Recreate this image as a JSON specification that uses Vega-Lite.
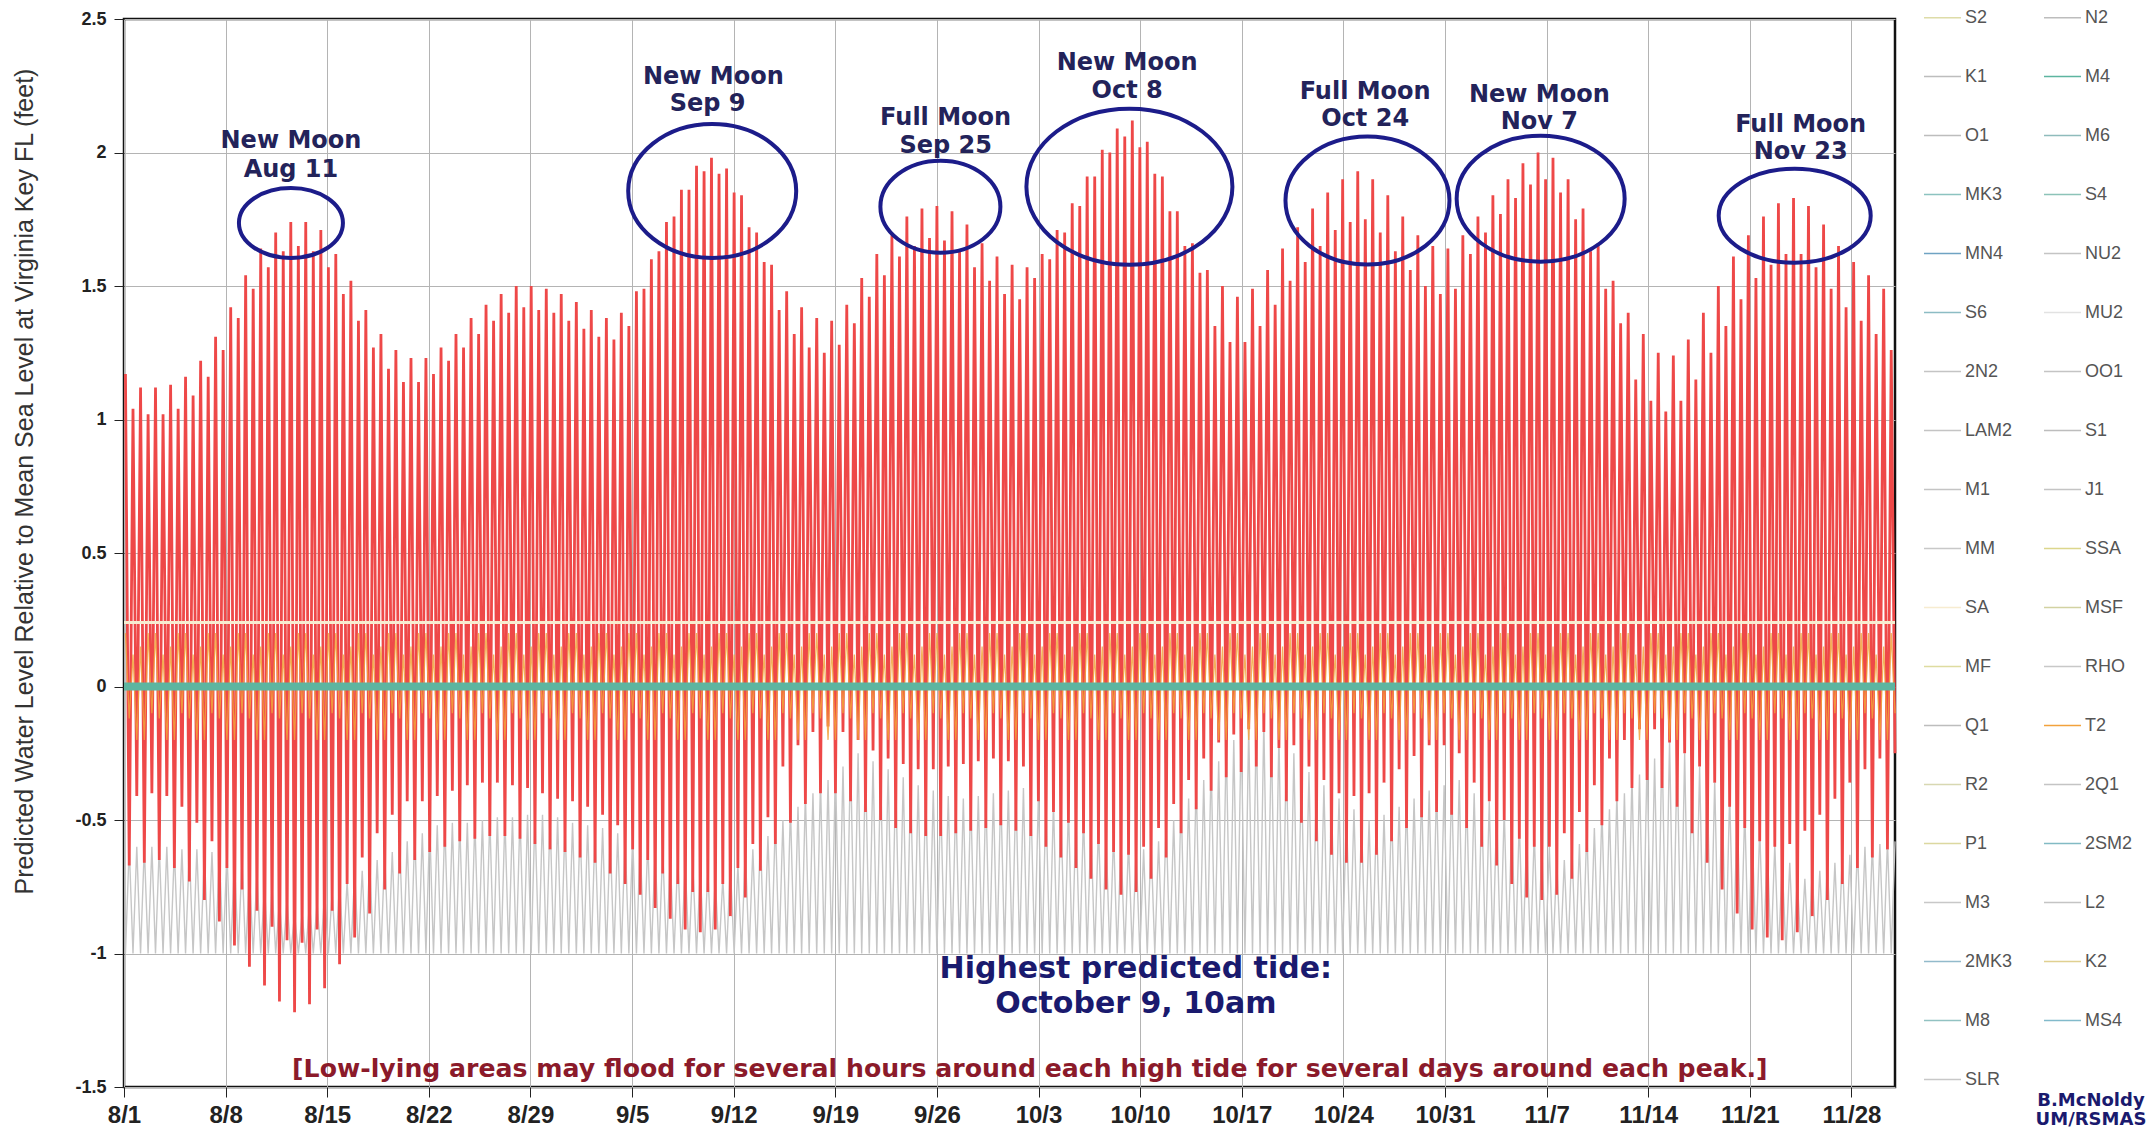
{
"$schema":"https://vega.github.io/schema/vega-lite/v6.json",
"width":1771,"height":1068,
"autosize":{"type":"none"},
"padding":{"left":124,"top":19,"right":258,"bottom":44},
"background":"white",
"config":{
"view":{"stroke":"#111","strokeWidth":2.5},
"axis":{"domain":false,"gridColor":"#b4b4b4","gridWidth":1,"tickColor":"#222","tickSize":10,"labelColor":"#222","labelFontWeight":"bold","labelFont":"Liberation Sans","labelOverlap":false,"labelFlush":false}
},
"datasets":{
"tide":[
{"t":0.1,"r":1.17,"g":-1,"o":0.2},{"t":0.36,"r":-0.67,"g":-0.6,"o":-0.12},{"t":0.62,"r":1.04,"g":-1,"o":0.12},{"t":0.88,"r":-0.41,"g":-0.6,"o":-0.2},
{"t":1.14,"r":1.12,"g":-1,"o":0.15},{"t":1.4,"r":-0.66,"g":-0.6,"o":-0.2},{"t":1.66,"r":1.02,"g":-1,"o":0.2},{"t":1.92,"r":-0.4,"g":-0.6,"o":-0.1},
{"t":2.17,"r":1.12,"g":-1,"o":0.2},{"t":2.43,"r":-0.65,"g":-0.6,"o":-0.12},{"t":2.69,"r":1.02,"g":-1,"o":0.12},{"t":2.95,"r":-0.41,"g":-0.6,"o":-0.2},
{"t":3.21,"r":1.13,"g":-1,"o":0.15},{"t":3.47,"r":-0.68,"g":-0.61,"o":-0.2},{"t":3.73,"r":1.04,"g":-1,"o":0.2},{"t":3.99,"r":-0.45,"g":-0.61,"o":-0.1},
{"t":4.24,"r":1.16,"g":-1,"o":0.2},{"t":4.5,"r":-0.73,"g":-0.61,"o":-0.12},{"t":4.76,"r":1.09,"g":-1,"o":0.12},{"t":5.02,"r":-0.51,"g":-0.61,"o":-0.2},
{"t":5.28,"r":1.22,"g":-1,"o":0.15},{"t":5.54,"r":-0.8,"g":-0.62,"o":-0.2},{"t":5.8,"r":1.16,"g":-1,"o":0.2},{"t":6.06,"r":-0.58,"g":-0.62,"o":-0.1},
{"t":6.31,"r":1.31,"g":-1,"o":0.2},{"t":6.57,"r":-0.88,"g":-0.62,"o":-0.12},{"t":6.83,"r":1.26,"g":-1,"o":0.12},{"t":7.09,"r":-0.68,"g":-0.62,"o":-0.2},
{"t":7.35,"r":1.42,"g":-1,"o":0.15},{"t":7.61,"r":-0.97,"g":-0.65,"o":-0.2},{"t":7.87,"r":1.38,"g":-1,"o":0.2},{"t":8.13,"r":-0.76,"g":-0.65,"o":-0.1},
{"t":8.38,"r":1.54,"g":-1,"o":0.2},{"t":8.64,"r":-1.05,"g":-0.7,"o":-0.12},{"t":8.9,"r":1.49,"g":-1,"o":0.12},{"t":9.16,"r":-0.84,"g":-0.7,"o":-0.2},
{"t":9.42,"r":1.64,"g":-1,"o":0.15},{"t":9.68,"r":-1.12,"g":-0.75,"o":-0.2},{"t":9.94,"r":1.57,"g":-1,"o":0.2},{"t":10.2,"r":-0.9,"g":-0.75,"o":-0.1},
{"t":10.45,"r":1.7,"g":-1,"o":0.2},{"t":10.71,"r":-1.18,"g":-0.8,"o":-0.12},{"t":10.97,"r":1.63,"g":-1,"o":0.12},{"t":11.23,"r":-0.95,"g":-0.8,"o":-0.2},
{"t":11.49,"r":1.74,"g":-1,"o":0.15},{"t":11.75,"r":-1.22,"g":-0.85,"o":-0.2},{"t":12.01,"r":1.65,"g":-1,"o":0.2},{"t":12.27,"r":-0.96,"g":-0.85,"o":-0.1},
{"t":12.52,"r":1.74,"g":-1,"o":0.2},{"t":12.78,"r":-1.19,"g":-0.81,"o":-0.12},{"t":13.04,"r":1.63,"g":-1,"o":0.12},{"t":13.3,"r":-0.91,"g":-0.81,"o":-0.2},
{"t":13.56,"r":1.71,"g":-1,"o":0.15},{"t":13.82,"r":-1.13,"g":-0.77,"o":-0.2},{"t":14.08,"r":1.57,"g":-1,"o":0.2},{"t":14.34,"r":-0.84,"g":-0.77,"o":-0.1},
{"t":14.59,"r":1.62,"g":-1,"o":0.2},{"t":14.85,"r":-1.04,"g":-0.73,"o":-0.12},{"t":15.11,"r":1.47,"g":-1,"o":0.12},{"t":15.37,"r":-0.74,"g":-0.73,"o":-0.2},
{"t":15.63,"r":1.52,"g":-1,"o":0.15},{"t":15.89,"r":-0.94,"g":-0.69,"o":-0.2},{"t":16.15,"r":1.37,"g":-1,"o":0.2},{"t":16.41,"r":-0.64,"g":-0.69,"o":-0.1},
{"t":16.66,"r":1.41,"g":-1,"o":0.2},{"t":16.92,"r":-0.85,"g":-0.65,"o":-0.12},{"t":17.18,"r":1.27,"g":-1,"o":0.12},{"t":17.44,"r":-0.55,"g":-0.65,"o":-0.2},
{"t":17.7,"r":1.32,"g":-1,"o":0.15},{"t":17.96,"r":-0.76,"g":-0.62,"o":-0.2},{"t":18.22,"r":1.19,"g":-1,"o":0.2},{"t":18.48,"r":-0.48,"g":-0.62,"o":-0.1},
{"t":18.73,"r":1.26,"g":-1,"o":0.2},{"t":18.99,"r":-0.7,"g":-0.58,"o":-0.12},{"t":19.25,"r":1.14,"g":-1,"o":0.12},{"t":19.51,"r":-0.43,"g":-0.58,"o":-0.2},
{"t":19.77,"r":1.23,"g":-1,"o":0.15},{"t":20.03,"r":-0.65,"g":-0.55,"o":-0.2},{"t":20.29,"r":1.14,"g":-1,"o":0.2},{"t":20.55,"r":-0.43,"g":-0.55,"o":-0.1},
{"t":20.8,"r":1.23,"g":-1,"o":0.2},{"t":21.06,"r":-0.62,"g":-0.52,"o":-0.12},{"t":21.32,"r":1.17,"g":-1,"o":0.12},{"t":21.58,"r":-0.41,"g":-0.52,"o":-0.2},
{"t":21.84,"r":1.27,"g":-1,"o":0.15},{"t":22.1,"r":-0.6,"g":-0.51,"o":-0.2},{"t":22.36,"r":1.22,"g":-1,"o":0.2},{"t":22.62,"r":-0.39,"g":-0.51,"o":-0.1},
{"t":22.87,"r":1.32,"g":-1,"o":0.2},{"t":23.13,"r":-0.58,"g":-0.51,"o":-0.12},{"t":23.39,"r":1.27,"g":-1,"o":0.12},{"t":23.65,"r":-0.37,"g":-0.51,"o":-0.2},
{"t":23.91,"r":1.38,"g":-1,"o":0.15},{"t":24.17,"r":-0.57,"g":-0.5,"o":-0.2},{"t":24.43,"r":1.32,"g":-1,"o":0.2},{"t":24.69,"r":-0.36,"g":-0.5,"o":-0.1},
{"t":24.94,"r":1.43,"g":-1,"o":0.2},{"t":25.2,"r":-0.56,"g":-0.49,"o":-0.12},{"t":25.46,"r":1.37,"g":-1,"o":0.12},{"t":25.72,"r":-0.36,"g":-0.49,"o":-0.2},
{"t":25.98,"r":1.47,"g":-1,"o":0.15},{"t":26.24,"r":-0.56,"g":-0.49,"o":-0.2},{"t":26.5,"r":1.4,"g":-1,"o":0.2},{"t":26.76,"r":-0.37,"g":-0.49,"o":-0.1},
{"t":27.02,"r":1.5,"g":-1,"o":0.2},{"t":27.28,"r":-0.57,"g":-0.48,"o":-0.12},{"t":27.54,"r":1.42,"g":-1,"o":0.12},{"t":27.8,"r":-0.38,"g":-0.48,"o":-0.2},
{"t":28.05,"r":1.5,"g":-1,"o":0.15},{"t":28.31,"r":-0.59,"g":-0.48,"o":-0.2},{"t":28.57,"r":1.41,"g":-1,"o":0.2},{"t":28.83,"r":-0.4,"g":-0.48,"o":-0.1},
{"t":29.09,"r":1.49,"g":-1,"o":0.2},{"t":29.35,"r":-0.61,"g":-0.49,"o":-0.12},{"t":29.61,"r":1.4,"g":-1,"o":0.12},{"t":29.87,"r":-0.42,"g":-0.49,"o":-0.2},
{"t":30.12,"r":1.47,"g":-1,"o":0.15},{"t":30.38,"r":-0.62,"g":-0.51,"o":-0.2},{"t":30.64,"r":1.37,"g":-1,"o":0.2},{"t":30.9,"r":-0.43,"g":-0.51,"o":-0.1},
{"t":31.16,"r":1.44,"g":-1,"o":0.2},{"t":31.42,"r":-0.64,"g":-0.52,"o":-0.12},{"t":31.68,"r":1.34,"g":-1,"o":0.12},{"t":31.94,"r":-0.45,"g":-0.52,"o":-0.2},
{"t":32.19,"r":1.41,"g":-1,"o":0.15},{"t":32.45,"r":-0.66,"g":-0.53,"o":-0.2},{"t":32.71,"r":1.31,"g":-1,"o":0.2},{"t":32.97,"r":-0.48,"g":-0.53,"o":-0.1},
{"t":33.23,"r":1.38,"g":-1,"o":0.2},{"t":33.49,"r":-0.7,"g":-0.55,"o":-0.12},{"t":33.75,"r":1.3,"g":-1,"o":0.12},{"t":34.01,"r":-0.52,"g":-0.55,"o":-0.2},
{"t":34.26,"r":1.4,"g":-1,"o":0.15},{"t":34.52,"r":-0.74,"g":-0.56,"o":-0.2},{"t":34.78,"r":1.35,"g":-1,"o":0.2},{"t":35.04,"r":-0.61,"g":-0.56,"o":-0.1},
{"t":35.3,"r":1.48,"g":-1,"o":0.2},{"t":35.56,"r":-0.78,"g":-0.58,"o":-0.12},{"t":35.82,"r":1.49,"g":-1,"o":0.12},{"t":36.08,"r":-0.65,"g":-0.58,"o":-0.2},
{"t":36.33,"r":1.6,"g":-1,"o":0.15},{"t":36.59,"r":-0.83,"g":-0.61,"o":-0.2},{"t":36.85,"r":1.63,"g":-1,"o":0.2},{"t":37.11,"r":-0.7,"g":-0.61,"o":-0.1},
{"t":37.37,"r":1.74,"g":-1,"o":0.2},{"t":37.63,"r":-0.87,"g":-0.64,"o":-0.12},{"t":37.89,"r":1.76,"g":-1,"o":0.12},{"t":38.15,"r":-0.74,"g":-0.64,"o":-0.2},
{"t":38.4,"r":1.86,"g":-1,"o":0.15},{"t":38.66,"r":-0.91,"g":-0.66,"o":-0.2},{"t":38.92,"r":1.86,"g":-1,"o":0.2},{"t":39.18,"r":-0.77,"g":-0.66,"o":-0.1},
{"t":39.44,"r":1.95,"g":-1,"o":0.2},{"t":39.7,"r":-0.92,"g":-0.69,"o":-0.12},{"t":39.96,"r":1.93,"g":-1,"o":0.12},{"t":40.22,"r":-0.77,"g":-0.69,"o":-0.2},
{"t":40.47,"r":1.98,"g":-1,"o":0.15},{"t":40.73,"r":-0.91,"g":-0.72,"o":-0.2},{"t":40.99,"r":1.92,"g":-1,"o":0.2},{"t":41.25,"r":-0.74,"g":-0.72,"o":-0.1},
{"t":41.51,"r":1.94,"g":-1,"o":0.2},{"t":41.77,"r":-0.86,"g":-0.67,"o":-0.12},{"t":42.03,"r":1.85,"g":-1,"o":0.12},{"t":42.29,"r":-0.68,"g":-0.67,"o":-0.2},
{"t":42.54,"r":1.84,"g":-1,"o":0.15},{"t":42.8,"r":-0.79,"g":-0.61,"o":-0.2},{"t":43.06,"r":1.72,"g":-1,"o":0.2},{"t":43.32,"r":-0.59,"g":-0.61,"o":-0.1},
{"t":43.58,"r":1.7,"g":-1,"o":0.2},{"t":43.84,"r":-0.69,"g":-0.56,"o":-0.12},{"t":44.1,"r":1.59,"g":-1,"o":0.12},{"t":44.36,"r":-0.49,"g":-0.56,"o":-0.2},
{"t":44.61,"r":1.58,"g":-1,"o":0.15},{"t":44.87,"r":-0.59,"g":-0.5,"o":-0.2},{"t":45.13,"r":1.41,"g":-1,"o":0.2},{"t":45.39,"r":-0.3,"g":-0.5,"o":-0.1},
{"t":45.65,"r":1.48,"g":-1,"o":0.2},{"t":45.91,"r":-0.51,"g":-0.45,"o":-0.12},{"t":46.17,"r":1.32,"g":-1,"o":0.12},{"t":46.43,"r":-0.22,"g":-0.45,"o":-0.2},
{"t":46.68,"r":1.42,"g":-1,"o":0.15},{"t":46.94,"r":-0.44,"g":-0.4,"o":-0.2},{"t":47.2,"r":1.27,"g":-1,"o":0.2},{"t":47.46,"r":-0.17,"g":-0.4,"o":-0.1},
{"t":47.72,"r":1.38,"g":-1,"o":0.2},{"t":47.98,"r":-0.4,"g":-0.35,"o":-0.12},{"t":48.24,"r":1.25,"g":-1,"o":0.12},{"t":48.5,"r":-0.15,"g":-0.35,"o":-0.2},
{"t":48.75,"r":1.37,"g":-1,"o":0.15},{"t":49.01,"r":-0.4,"g":-0.3,"o":-0.2},{"t":49.27,"r":1.28,"g":-1,"o":0.2},{"t":49.53,"r":-0.17,"g":-0.3,"o":-0.1},
{"t":49.79,"r":1.43,"g":-1,"o":0.2},{"t":50.05,"r":-0.43,"g":-0.25,"o":-0.12},{"t":50.31,"r":1.36,"g":-1,"o":0.12},{"t":50.57,"r":-0.2,"g":-0.25,"o":-0.2},
{"t":50.82,"r":1.53,"g":-1,"o":0.15},{"t":51.08,"r":-0.47,"g":-0.28,"o":-0.2},{"t":51.34,"r":1.46,"g":-1,"o":0.2},{"t":51.6,"r":-0.24,"g":-0.28,"o":-0.1},
{"t":51.86,"r":1.62,"g":-1,"o":0.2},{"t":52.12,"r":-0.5,"g":-0.31,"o":-0.12},{"t":52.38,"r":1.54,"g":-1,"o":0.12},{"t":52.64,"r":-0.27,"g":-0.31,"o":-0.2},
{"t":52.9,"r":1.69,"g":-1,"o":0.15},{"t":53.16,"r":-0.53,"g":-0.34,"o":-0.2},{"t":53.42,"r":1.61,"g":-1,"o":0.2},{"t":53.68,"r":-0.29,"g":-0.34,"o":-0.1},
{"t":53.93,"r":1.76,"g":-1,"o":0.2},{"t":54.19,"r":-0.55,"g":-0.37,"o":-0.12},{"t":54.45,"r":1.65,"g":-1,"o":0.12},{"t":54.71,"r":-0.31,"g":-0.37,"o":-0.2},
{"t":54.97,"r":1.79,"g":-1,"o":0.15},{"t":55.23,"r":-0.56,"g":-0.39,"o":-0.2},{"t":55.49,"r":1.68,"g":-1,"o":0.2},{"t":55.75,"r":-0.31,"g":-0.39,"o":-0.1},
{"t":56.0,"r":1.8,"g":-1,"o":0.2},{"t":56.26,"r":-0.56,"g":-0.41,"o":-0.12},{"t":56.52,"r":1.67,"g":-1,"o":0.12},{"t":56.78,"r":-0.3,"g":-0.41,"o":-0.2},
{"t":57.04,"r":1.78,"g":-1,"o":0.15},{"t":57.3,"r":-0.55,"g":-0.42,"o":-0.2},{"t":57.56,"r":1.63,"g":-1,"o":0.2},{"t":57.82,"r":-0.29,"g":-0.42,"o":-0.1},
{"t":58.07,"r":1.73,"g":-1,"o":0.2},{"t":58.33,"r":-0.54,"g":-0.41,"o":-0.12},{"t":58.59,"r":1.57,"g":-1,"o":0.12},{"t":58.85,"r":-0.28,"g":-0.41,"o":-0.2},
{"t":59.11,"r":1.66,"g":-1,"o":0.15},{"t":59.37,"r":-0.53,"g":-0.4,"o":-0.2},{"t":59.63,"r":1.52,"g":-1,"o":0.2},{"t":59.89,"r":-0.27,"g":-0.4,"o":-0.1},
{"t":60.14,"r":1.61,"g":-1,"o":0.2},{"t":60.4,"r":-0.52,"g":-0.39,"o":-0.12},{"t":60.66,"r":1.47,"g":-1,"o":0.12},{"t":60.92,"r":-0.28,"g":-0.39,"o":-0.2},
{"t":61.18,"r":1.58,"g":-1,"o":0.15},{"t":61.44,"r":-0.54,"g":-0.38,"o":-0.2},{"t":61.7,"r":1.45,"g":-1,"o":0.2},{"t":61.96,"r":-0.3,"g":-0.38,"o":-0.1},
{"t":62.21,"r":1.57,"g":-1,"o":0.2},{"t":62.47,"r":-0.56,"g":-0.41,"o":-0.12},{"t":62.73,"r":1.53,"g":-1,"o":0.12},{"t":62.99,"r":-0.43,"g":-0.41,"o":-0.2},
{"t":63.25,"r":1.62,"g":-1,"o":0.15},{"t":63.51,"r":-0.6,"g":-0.43,"o":-0.2},{"t":63.77,"r":1.6,"g":-1,"o":0.2},{"t":64.03,"r":-0.47,"g":-0.43,"o":-0.1},
{"t":64.28,"r":1.71,"g":-1,"o":0.2},{"t":64.54,"r":-0.64,"g":-0.45,"o":-0.12},{"t":64.8,"r":1.7,"g":-1,"o":0.12},{"t":65.06,"r":-0.51,"g":-0.45,"o":-0.2},
{"t":65.32,"r":1.81,"g":-1,"o":0.15},{"t":65.58,"r":-0.68,"g":-0.48,"o":-0.2},{"t":65.84,"r":1.8,"g":-1,"o":0.2},{"t":66.1,"r":-0.55,"g":-0.48,"o":-0.1},
{"t":66.35,"r":1.91,"g":-1,"o":0.2},{"t":66.61,"r":-0.72,"g":-0.52,"o":-0.12},{"t":66.87,"r":1.91,"g":-1,"o":0.12},{"t":67.13,"r":-0.59,"g":-0.52,"o":-0.2},
{"t":67.39,"r":2.01,"g":-1,"o":0.15},{"t":67.65,"r":-0.76,"g":-0.55,"o":-0.2},{"t":67.91,"r":2.0,"g":-1,"o":0.2},{"t":68.17,"r":-0.62,"g":-0.55,"o":-0.1},
{"t":68.42,"r":2.09,"g":-1,"o":0.2},{"t":68.68,"r":-0.78,"g":-0.58,"o":-0.12},{"t":68.94,"r":2.06,"g":-1,"o":0.12},{"t":69.2,"r":-0.63,"g":-0.58,"o":-0.2},
{"t":69.46,"r":2.12,"g":-1,"o":0.15},{"t":69.72,"r":-0.77,"g":-0.61,"o":-0.2},{"t":69.98,"r":2.02,"g":-1,"o":0.2},{"t":70.24,"r":-0.6,"g":-0.61,"o":-0.1},
{"t":70.49,"r":2.04,"g":-1,"o":0.2},{"t":70.75,"r":-0.72,"g":-0.58,"o":-0.12},{"t":71.01,"r":1.92,"g":-1,"o":0.12},{"t":71.27,"r":-0.53,"g":-0.58,"o":-0.2},
{"t":71.53,"r":1.91,"g":-1,"o":0.15},{"t":71.79,"r":-0.64,"g":-0.5,"o":-0.2},{"t":72.05,"r":1.78,"g":-1,"o":0.2},{"t":72.31,"r":-0.44,"g":-0.5,"o":-0.1},
{"t":72.56,"r":1.78,"g":-1,"o":0.2},{"t":72.82,"r":-0.55,"g":-0.42,"o":-0.12},{"t":73.08,"r":1.65,"g":-1,"o":0.12},{"t":73.34,"r":-0.35,"g":-0.42,"o":-0.2},
{"t":73.6,"r":1.66,"g":-1,"o":0.15},{"t":73.86,"r":-0.46,"g":-0.35,"o":-0.2},{"t":74.12,"r":1.55,"g":-1,"o":0.2},{"t":74.38,"r":-0.27,"g":-0.35,"o":-0.1},
{"t":74.63,"r":1.56,"g":-1,"o":0.2},{"t":74.89,"r":-0.39,"g":-0.28,"o":-0.12},{"t":75.15,"r":1.35,"g":-1,"o":0.12},{"t":75.41,"r":-0.21,"g":-0.28,"o":-0.2},
{"t":75.67,"r":1.5,"g":-1,"o":0.15},{"t":75.93,"r":-0.34,"g":-0.2,"o":-0.2},{"t":76.19,"r":1.29,"g":-1,"o":0.2},{"t":76.45,"r":-0.18,"g":-0.2,"o":-0.1},
{"t":76.7,"r":1.46,"g":-1,"o":0.2},{"t":76.96,"r":-0.32,"g":-0.15,"o":-0.12},{"t":77.22,"r":1.29,"g":-1,"o":0.12},{"t":77.48,"r":-0.16,"g":-0.15,"o":-0.2},
{"t":77.74,"r":1.49,"g":-1,"o":0.15},{"t":78.0,"r":-0.3,"g":-0.13,"o":-0.2},{"t":78.26,"r":1.35,"g":-1,"o":0.2},{"t":78.52,"r":-0.17,"g":-0.13,"o":-0.1},
{"t":78.78,"r":1.56,"g":-1,"o":0.2},{"t":79.04,"r":-0.34,"g":-0.18,"o":-0.12},{"t":79.3,"r":1.43,"g":-1,"o":0.12},{"t":79.56,"r":-0.23,"g":-0.18,"o":-0.2},
{"t":79.81,"r":1.64,"g":-1,"o":0.15},{"t":80.07,"r":-0.43,"g":-0.25,"o":-0.2},{"t":80.33,"r":1.52,"g":-1,"o":0.2},{"t":80.59,"r":-0.22,"g":-0.25,"o":-0.1},
{"t":80.85,"r":1.72,"g":-1,"o":0.2},{"t":81.11,"r":-0.51,"g":-0.32,"o":-0.12},{"t":81.37,"r":1.59,"g":-1,"o":0.12},{"t":81.63,"r":-0.3,"g":-0.32,"o":-0.2},
{"t":81.88,"r":1.79,"g":-1,"o":0.15},{"t":82.14,"r":-0.58,"g":-0.37,"o":-0.2},{"t":82.4,"r":1.65,"g":-1,"o":0.2},{"t":82.66,"r":-0.35,"g":-0.37,"o":-0.1},
{"t":82.92,"r":1.85,"g":-1,"o":0.2},{"t":83.18,"r":-0.63,"g":-0.42,"o":-0.12},{"t":83.44,"r":1.71,"g":-1,"o":0.12},{"t":83.7,"r":-0.4,"g":-0.42,"o":-0.2},
{"t":83.95,"r":1.9,"g":-1,"o":0.15},{"t":84.21,"r":-0.66,"g":-0.46,"o":-0.2},{"t":84.47,"r":1.74,"g":-1,"o":0.2},{"t":84.73,"r":-0.41,"g":-0.46,"o":-0.1},
{"t":84.99,"r":1.93,"g":-1,"o":0.2},{"t":85.25,"r":-0.66,"g":-0.5,"o":-0.12},{"t":85.51,"r":1.75,"g":-1,"o":0.12},{"t":85.77,"r":-0.4,"g":-0.5,"o":-0.2},
{"t":86.02,"r":1.9,"g":-1,"o":0.15},{"t":86.28,"r":-0.63,"g":-0.48,"o":-0.2},{"t":86.54,"r":1.7,"g":-1,"o":0.2},{"t":86.8,"r":-0.36,"g":-0.48,"o":-0.1},
{"t":87.06,"r":1.84,"g":-1,"o":0.2},{"t":87.32,"r":-0.58,"g":-0.45,"o":-0.12},{"t":87.58,"r":1.63,"g":-1,"o":0.12},{"t":87.84,"r":-0.31,"g":-0.45,"o":-0.2},
{"t":88.09,"r":1.76,"g":-1,"o":0.15},{"t":88.35,"r":-0.53,"g":-0.42,"o":-0.2},{"t":88.61,"r":1.56,"g":-1,"o":0.2},{"t":88.87,"r":-0.26,"g":-0.42,"o":-0.1},
{"t":89.13,"r":1.69,"g":-1,"o":0.2},{"t":89.39,"r":-0.49,"g":-0.39,"o":-0.12},{"t":89.65,"r":1.5,"g":-1,"o":0.12},{"t":89.91,"r":-0.22,"g":-0.39,"o":-0.2},
{"t":90.16,"r":1.65,"g":-1,"o":0.15},{"t":90.42,"r":-0.47,"g":-0.37,"o":-0.2},{"t":90.68,"r":1.47,"g":-1,"o":0.2},{"t":90.94,"r":-0.22,"g":-0.37,"o":-0.1},
{"t":91.2,"r":1.64,"g":-1,"o":0.2},{"t":91.46,"r":-0.48,"g":-0.35,"o":-0.12},{"t":91.72,"r":1.49,"g":-1,"o":0.12},{"t":91.98,"r":-0.25,"g":-0.35,"o":-0.2},
{"t":92.23,"r":1.69,"g":-1,"o":0.15},{"t":92.49,"r":-0.53,"g":-0.4,"o":-0.2},{"t":92.75,"r":1.62,"g":-1,"o":0.2},{"t":93.01,"r":-0.36,"g":-0.4,"o":-0.1},
{"t":93.27,"r":1.76,"g":-1,"o":0.2},{"t":93.53,"r":-0.6,"g":-0.43,"o":-0.12},{"t":93.79,"r":1.7,"g":-1,"o":0.12},{"t":94.05,"r":-0.43,"g":-0.43,"o":-0.2},
{"t":94.3,"r":1.84,"g":-1,"o":0.15},{"t":94.56,"r":-0.67,"g":-0.46,"o":-0.2},{"t":94.82,"r":1.77,"g":-1,"o":0.2},{"t":95.08,"r":-0.5,"g":-0.46,"o":-0.1},
{"t":95.34,"r":1.9,"g":-1,"o":0.2},{"t":95.6,"r":-0.74,"g":-0.5,"o":-0.12},{"t":95.86,"r":1.83,"g":-1,"o":0.12},{"t":96.12,"r":-0.57,"g":-0.5,"o":-0.2},
{"t":96.37,"r":1.96,"g":-1,"o":0.15},{"t":96.63,"r":-0.79,"g":-0.55,"o":-0.2},{"t":96.89,"r":1.88,"g":-1,"o":0.2},{"t":97.15,"r":-0.6,"g":-0.55,"o":-0.1},
{"t":97.41,"r":2.0,"g":-1,"o":0.2},{"t":97.67,"r":-0.8,"g":-0.6,"o":-0.12},{"t":97.93,"r":1.9,"g":-1,"o":0.12},{"t":98.19,"r":-0.6,"g":-0.6,"o":-0.2},
{"t":98.44,"r":1.98,"g":-1,"o":0.15},{"t":98.7,"r":-0.78,"g":-0.65,"o":-0.2},{"t":98.96,"r":1.85,"g":-1,"o":0.2},{"t":99.22,"r":-0.55,"g":-0.65,"o":-0.1},
{"t":99.48,"r":1.9,"g":-1,"o":0.2},{"t":99.74,"r":-0.72,"g":-0.59,"o":-0.12},{"t":100.0,"r":1.75,"g":-1,"o":0.12},{"t":100.26,"r":-0.47,"g":-0.59,"o":-0.2},
{"t":100.51,"r":1.79,"g":-1,"o":0.15},{"t":100.77,"r":-0.62,"g":-0.53,"o":-0.2},{"t":101.03,"r":1.63,"g":-1,"o":0.2},{"t":101.29,"r":-0.37,"g":-0.53,"o":-0.1},
{"t":101.55,"r":1.66,"g":-1,"o":0.2},{"t":101.81,"r":-0.52,"g":-0.46,"o":-0.12},{"t":102.07,"r":1.49,"g":-1,"o":0.12},{"t":102.33,"r":-0.27,"g":-0.46,"o":-0.2},
{"t":102.58,"r":1.52,"g":-1,"o":0.15},{"t":102.84,"r":-0.43,"g":-0.4,"o":-0.2},{"t":103.1,"r":1.36,"g":-1,"o":0.2},{"t":103.36,"r":-0.2,"g":-0.4,"o":-0.1},
{"t":103.62,"r":1.4,"g":-1,"o":0.2},{"t":103.88,"r":-0.38,"g":-0.33,"o":-0.12},{"t":104.14,"r":1.15,"g":-1,"o":0.12},{"t":104.4,"r":-0.16,"g":-0.33,"o":-0.2},
{"t":104.66,"r":1.32,"g":-1,"o":0.15},{"t":104.92,"r":-0.35,"g":-0.27,"o":-0.2},{"t":105.18,"r":1.07,"g":-1,"o":0.2},{"t":105.44,"r":-0.16,"g":-0.27,"o":-0.1},
{"t":105.69,"r":1.25,"g":-1,"o":0.2},{"t":105.95,"r":-0.38,"g":-0.2,"o":-0.12},{"t":106.21,"r":1.03,"g":-1,"o":0.12},{"t":106.47,"r":-0.21,"g":-0.2,"o":-0.2},
{"t":106.73,"r":1.24,"g":-1,"o":0.15},{"t":106.99,"r":-0.45,"g":-0.25,"o":-0.2},{"t":107.25,"r":1.07,"g":-1,"o":0.2},{"t":107.51,"r":-0.25,"g":-0.25,"o":-0.1},
{"t":107.76,"r":1.3,"g":-1,"o":0.2},{"t":108.02,"r":-0.55,"g":-0.3,"o":-0.12},{"t":108.28,"r":1.15,"g":-1,"o":0.12},{"t":108.54,"r":-0.3,"g":-0.3,"o":-0.2},
{"t":108.8,"r":1.4,"g":-1,"o":0.15},{"t":109.06,"r":-0.66,"g":-0.35,"o":-0.2},{"t":109.32,"r":1.25,"g":-1,"o":0.2},{"t":109.58,"r":-0.36,"g":-0.35,"o":-0.1},
{"t":109.83,"r":1.5,"g":-1,"o":0.2},{"t":110.09,"r":-0.76,"g":-0.4,"o":-0.12},{"t":110.35,"r":1.35,"g":-1,"o":0.12},{"t":110.61,"r":-0.45,"g":-0.4,"o":-0.2},
{"t":110.87,"r":1.61,"g":-1,"o":0.15},{"t":111.13,"r":-0.85,"g":-0.46,"o":-0.2},{"t":111.39,"r":1.45,"g":-1,"o":0.2},{"t":111.65,"r":-0.53,"g":-0.46,"o":-0.1},
{"t":111.9,"r":1.69,"g":-1,"o":0.2},{"t":112.16,"r":-0.91,"g":-0.53,"o":-0.12},{"t":112.42,"r":1.53,"g":-1,"o":0.12},{"t":112.68,"r":-0.58,"g":-0.53,"o":-0.2},
{"t":112.94,"r":1.76,"g":-1,"o":0.15},{"t":113.2,"r":-0.94,"g":-0.59,"o":-0.2},{"t":113.46,"r":1.58,"g":-1,"o":0.2},{"t":113.72,"r":-0.6,"g":-0.59,"o":-0.1},
{"t":113.97,"r":1.81,"g":-1,"o":0.2},{"t":114.23,"r":-0.95,"g":-0.66,"o":-0.12},{"t":114.49,"r":1.62,"g":-1,"o":0.12},{"t":114.75,"r":-0.59,"g":-0.66,"o":-0.2},
{"t":115.01,"r":1.83,"g":-1,"o":0.15},{"t":115.27,"r":-0.92,"g":-0.72,"o":-0.2},{"t":115.53,"r":1.62,"g":-1,"o":0.2},{"t":115.79,"r":-0.54,"g":-0.72,"o":-0.1},
{"t":116.04,"r":1.8,"g":-1,"o":0.2},{"t":116.3,"r":-0.86,"g":-0.69,"o":-0.12},{"t":116.56,"r":1.57,"g":-1,"o":0.12},{"t":116.82,"r":-0.48,"g":-0.69,"o":-0.2},
{"t":117.08,"r":1.73,"g":-1,"o":0.15},{"t":117.34,"r":-0.8,"g":-0.66,"o":-0.2},{"t":117.6,"r":1.49,"g":-1,"o":0.2},{"t":117.86,"r":-0.42,"g":-0.66,"o":-0.1},
{"t":118.11,"r":1.65,"g":-1,"o":0.2},{"t":118.37,"r":-0.74,"g":-0.63,"o":-0.12},{"t":118.63,"r":1.42,"g":-1,"o":0.12},{"t":118.89,"r":-0.36,"g":-0.63,"o":-0.2},
{"t":119.15,"r":1.59,"g":-1,"o":0.15},{"t":119.41,"r":-0.68,"g":-0.6,"o":-0.2},{"t":119.67,"r":1.37,"g":-1,"o":0.2},{"t":119.93,"r":-0.31,"g":-0.6,"o":-0.1},
{"t":120.18,"r":1.54,"g":-1,"o":0.2},{"t":120.44,"r":-0.64,"g":-0.59,"o":-0.12},{"t":120.7,"r":1.32,"g":-1,"o":0.12},{"t":120.96,"r":-0.27,"g":-0.59,"o":-0.2},
{"t":121.22,"r":1.49,"g":-1,"o":0.15},{"t":121.48,"r":-0.61,"g":-0.58,"o":-0.2},{"t":121.74,"r":1.26,"g":-1,"o":0.2},{"t":122.0,"r":-0.25,"g":-0.58,"o":-0.1}
]
},
"layer":[
{"data":{"name":"tide"},"mark":{"type":"line","color":"#c6c6c6","strokeWidth":1.4},
"encoding":{
"x":{"field":"t","type":"quantitative","title":null,"scale":{"domain":[0,122],"nice":false,"zero":false},"axis":{"title":null,"values":[0,7,14,21,28,35,42,49,56,63,70,77,84,91,98,105,112,119],"labelExpr":"timeFormat(datetime(2023,7,1+datum.value),'%-m/%-d')","labelFontSize":24,"labelPadding":6,"labelFont":"Liberation Sans","labelFontWeight":"bold","labelColor":"#222","tickSize":10}},
"y":{"field":"g","type":"quantitative","title":"Predicted Water Level Relative to Mean Sea Level at Virginia Key FL (feet)","scale":{"domain":[-1.5,2.5],"nice":false,"zero":false},"axis":{"title":"Predicted Water Level Relative to Mean Sea Level at Virginia Key FL (feet)","values":[-1.5,-1,-0.5,0,0.5,1,1.5,2,2.5],"labelExpr":"'' + datum.value","labelFontSize":18,"labelPadding":8,"labelFont":"Liberation Sans","labelFontWeight":"bold","labelColor":"#222","tickSize":10,"titleFont":"Liberation Sans","titleFontSize":25,"titleFontWeight":"normal","titleColor":"#333","titleX":-100,"titleY":462,"titleBaseline":"middle","titleAlign":"center","titleAngle":270}}}},
{"data":{"name":"tide"},"mark":{"type":"line","color":"#ee4848","strokeWidth":2.8},
"encoding":{
"x":{"field":"t","type":"quantitative","title":null,"scale":{"domain":[0,122],"nice":false,"zero":false}},
"y":{"field":"r","type":"quantitative","title":"Predicted Water Level Relative to Mean Sea Level at Virginia Key FL (feet)","scale":{"domain":[-1.5,2.5],"nice":false,"zero":false}}}},
{"data":{"name":"tide"},"mark":{"type":"line","strokeWidth":1.3,"opacity":0.85},
"encoding":{
"x":{"field":"t","type":"quantitative","title":null,"scale":{"domain":[0,122],"nice":false,"zero":false}},
"y":{"field":"o","type":"quantitative","title":"Predicted Water Level Relative to Mean Sea Level at Virginia Key FL (feet)","scale":{"domain":[-1.5,2.5],"nice":false,"zero":false}},
"color":{"datum":"T2","type":"nominal",
"scale":{"domain":["S2","N2","K1","M4","O1","M6","MK3","S4","MN4","NU2","S6","MU2","2N2","OO1","LAM2","S1","M1","J1","MM","SSA","SA","MSF","MF","RHO","Q1","T2","R2","2Q1","P1","2SM2","M3","L2","2MK3","K2","M8","MS4","SLR"],
"range":["#dedca8","#bdbdbd","#bdbdbd","#5db5a0","#bdbdbd","#8fbcbc","#8cc3c0","#8cc3b8","#6fa3c3","#c4c4c4","#8cbcc4","#e2e2e2","#c4c4c4","#c4c4c4","#c4c4c4","#bdbdbd","#c4c4c4","#c4c4c4","#c8c8c8","#dcd68c","#f7ecd0","#d2d2a2","#dedca0","#c8c8c8","#bdbdbd","#f2a23c","#d8d8b2","#c4c4c4","#dcd8a0","#82bac4","#c8c8c8","#c4c4c4","#92bacb","#e0d090","#92c2c2","#82bacb","#c8c8c8"]},
"legend":{"title":null,"orient":"none","legendX":1799,"legendY":-10,"direction":"horizontal","columns":2,"symbolLimit":50,"symbolType":"stroke","symbolSize":1369,"symbolStrokeWidth":1.6,"symbolOpacity":1,"labelFont":"Liberation Sans","labelFontSize":18,"labelColor":"#555","rowPadding":40,"columnPadding":30,"labelOffset":3,"clipHeight":17}}}},
{"data":{"values":[{"s":"SA","v":0.24}]},"mark":{"type":"rule","strokeWidth":3},
"encoding":{
"y":{"field":"v","type":"quantitative","title":"Predicted Water Level Relative to Mean Sea Level at Virginia Key FL (feet)","scale":{"domain":[-1.5,2.5],"nice":false,"zero":false}},
"color":{"field":"s","type":"nominal",
"scale":{"domain":["S2","N2","K1","M4","O1","M6","MK3","S4","MN4","NU2","S6","MU2","2N2","OO1","LAM2","S1","M1","J1","MM","SSA","SA","MSF","MF","RHO","Q1","T2","R2","2Q1","P1","2SM2","M3","L2","2MK3","K2","M8","MS4","SLR"],
"range":["#dedca8","#bdbdbd","#bdbdbd","#5db5a0","#bdbdbd","#8fbcbc","#8cc3c0","#8cc3b8","#6fa3c3","#c4c4c4","#8cbcc4","#e2e2e2","#c4c4c4","#c4c4c4","#c4c4c4","#bdbdbd","#c4c4c4","#c4c4c4","#c8c8c8","#dcd68c","#f7ecd0","#d2d2a2","#dedca0","#c8c8c8","#bdbdbd","#f2a23c","#d8d8b2","#c4c4c4","#dcd8a0","#82bac4","#c8c8c8","#c4c4c4","#92bacb","#e0d090","#92c2c2","#82bacb","#c8c8c8"]},
"legend":{"title":null,"orient":"none","legendX":1799,"legendY":-10,"direction":"horizontal","columns":2,"symbolLimit":50,"symbolType":"stroke","symbolSize":1369,"symbolStrokeWidth":1.6,"symbolOpacity":1,"labelFont":"Liberation Sans","labelFontSize":18,"labelColor":"#555","rowPadding":40,"columnPadding":30,"labelOffset":3,"clipHeight":17}}}},
{"data":{"values":[{"s":"M4","v":0}]},"mark":{"type":"rule","strokeWidth":8},
"encoding":{
"y":{"field":"v","type":"quantitative","title":"Predicted Water Level Relative to Mean Sea Level at Virginia Key FL (feet)","scale":{"domain":[-1.5,2.5],"nice":false,"zero":false}},
"color":{"field":"s","type":"nominal",
"scale":{"domain":["S2","N2","K1","M4","O1","M6","MK3","S4","MN4","NU2","S6","MU2","2N2","OO1","LAM2","S1","M1","J1","MM","SSA","SA","MSF","MF","RHO","Q1","T2","R2","2Q1","P1","2SM2","M3","L2","2MK3","K2","M8","MS4","SLR"],
"range":["#dedca8","#bdbdbd","#bdbdbd","#5db5a0","#bdbdbd","#8fbcbc","#8cc3c0","#8cc3b8","#6fa3c3","#c4c4c4","#8cbcc4","#e2e2e2","#c4c4c4","#c4c4c4","#c4c4c4","#bdbdbd","#c4c4c4","#c4c4c4","#c8c8c8","#dcd68c","#f7ecd0","#d2d2a2","#dedca0","#c8c8c8","#bdbdbd","#f2a23c","#d8d8b2","#c4c4c4","#dcd8a0","#82bac4","#c8c8c8","#c4c4c4","#92bacb","#e0d090","#92c2c2","#82bacb","#c8c8c8"]},
"legend":{"title":null,"orient":"none","legendX":1799,"legendY":-10,"direction":"horizontal","columns":2,"symbolLimit":50,"symbolType":"stroke","symbolSize":1369,"symbolStrokeWidth":1.6,"symbolOpacity":1,"labelFont":"Liberation Sans","labelFontSize":18,"labelColor":"#555","rowPadding":40,"columnPadding":30,"labelOffset":3,"clipHeight":17}}}},
{"data":{"values":[{"m":"Aug 11","t":11.5,"v":1.736},{"m":"Sep 9","t":40.52,"v":1.856},{"m":"Sep 25","t":56.24,"v":1.797},{"m":"Oct 8","t":69.26,"v":1.872},{"m":"Oct 24","t":85.66,"v":1.82},{"m":"Nov 7","t":97.59,"v":1.827},{"m":"Nov 23","t":115.09,"v":1.763}]},
"mark":{"type":"point","filled":false,"size":4,"color":"#1c1c8a","strokeWidth":4,"opacity":1},
"encoding":{
"x":{"field":"t","type":"quantitative","title":null,"scale":{"domain":[0,122],"nice":false,"zero":false}},
"y":{"field":"v","type":"quantitative","title":"Predicted Water Level Relative to Mean Sea Level at Virginia Key FL (feet)","scale":{"domain":[-1.5,2.5],"nice":false,"zero":false}},
"shape":{"field":"m","type":"nominal","legend":null,"scale":{"domain":["Aug 11","Sep 9","Sep 25","Oct 8","Oct 24","Nov 7","Nov 23"],"range":["M-52,0A52,35,0,1,0,52,0A52,35,0,1,0,-52,0Z","M-84,0A84,67,0,1,0,84,0A84,67,0,1,0,-84,0Z","M-60,0A60,46,0,1,0,60,0A60,46,0,1,0,-60,0Z","M-103,0A103,78,0,1,0,103,0A103,78,0,1,0,-103,0Z","M-82,0A82,64,0,1,0,82,0A82,64,0,1,0,-82,0Z","M-84,0A84,63,0,1,0,84,0A84,63,0,1,0,-84,0Z","M-76,0A76,47,0,1,0,76,0A76,47,0,1,0,-76,0Z"]}}}},
{"data":{"values":[{"t":11.5,"v":2.044,"s":"New Moon"},{"t":11.5,"v":1.935,"s":"Aug 11"},{"t":40.6,"v":2.284,"s":"New Moon"},{"t":40.2,"v":2.182,"s":"Sep 9"},{"t":56.6,"v":2.13,"s":"Full Moon"},{"t":56.6,"v":2.025,"s":"Sep 25"},{"t":69.1,"v":2.336,"s":"New Moon"},{"t":69.1,"v":2.231,"s":"Oct 8"},{"t":85.5,"v":2.227,"s":"Full Moon"},{"t":85.5,"v":2.126,"s":"Oct 24"},{"t":97.5,"v":2.216,"s":"New Moon"},{"t":97.5,"v":2.115,"s":"Nov 7"},{"t":115.5,"v":2.103,"s":"Full Moon"},{"t":115.5,"v":2.002,"s":"Nov 23"}]},
"mark":{"type":"text","font":"DejaVu Sans","fontWeight":"bold","fontSize":24,"color":"#23235a","baseline":"middle","align":"center"},
"encoding":{
"x":{"field":"t","type":"quantitative","title":null,"scale":{"domain":[0,122],"nice":false,"zero":false}},
"y":{"field":"v","type":"quantitative","title":"Predicted Water Level Relative to Mean Sea Level at Virginia Key FL (feet)","scale":{"domain":[-1.5,2.5],"nice":false,"zero":false}},
"text":{"field":"s"}}},
{"data":{"values":[{"t":69.7,"v":-1.057,"s":"Highest predicted tide:"},{"t":69.7,"v":-1.19,"s":"October 9, 10am"}]},
"mark":{"type":"text","font":"DejaVu Sans","fontWeight":"bold","fontSize":30,"color":"#1a1a6e","baseline":"middle","align":"center"},
"encoding":{
"x":{"field":"t","type":"quantitative","title":null,"scale":{"domain":[0,122],"nice":false,"zero":false}},
"y":{"field":"v","type":"quantitative","title":"Predicted Water Level Relative to Mean Sea Level at Virginia Key FL (feet)","scale":{"domain":[-1.5,2.5],"nice":false,"zero":false}},
"text":{"field":"s"}}},
{"data":{"values":[{"t":62.4,"v":-1.432,"s":"[Low-lying areas may flood for several hours around each high tide for several days around each peak.]"}]},
"mark":{"type":"text","font":"DejaVu Sans","fontWeight":"bold","fontSize":25.2,"color":"#8b1a2a","baseline":"middle","align":"center"},
"encoding":{
"x":{"field":"t","type":"quantitative","title":null,"scale":{"domain":[0,122],"nice":false,"zero":false}},
"y":{"field":"v","type":"quantitative","title":"Predicted Water Level Relative to Mean Sea Level at Virginia Key FL (feet)","scale":{"domain":[-1.5,2.5],"nice":false,"zero":false}},
"text":{"field":"s"}}},
{"data":{"values":[{"t":135.5,"v":-1.552,"s":"B.McNoldy"},{"t":135.5,"v":-1.623,"s":"UM/RSMAS"}]},
"mark":{"type":"text","font":"DejaVu Sans","fontWeight":"bold","fontSize":18,"color":"#1a1a6e","baseline":"middle","align":"center"},
"encoding":{
"x":{"field":"t","type":"quantitative","title":null,"scale":{"domain":[0,122],"nice":false,"zero":false}},
"y":{"field":"v","type":"quantitative","title":"Predicted Water Level Relative to Mean Sea Level at Virginia Key FL (feet)","scale":{"domain":[-1.5,2.5],"nice":false,"zero":false}},
"text":{"field":"s"}}}
]
}
